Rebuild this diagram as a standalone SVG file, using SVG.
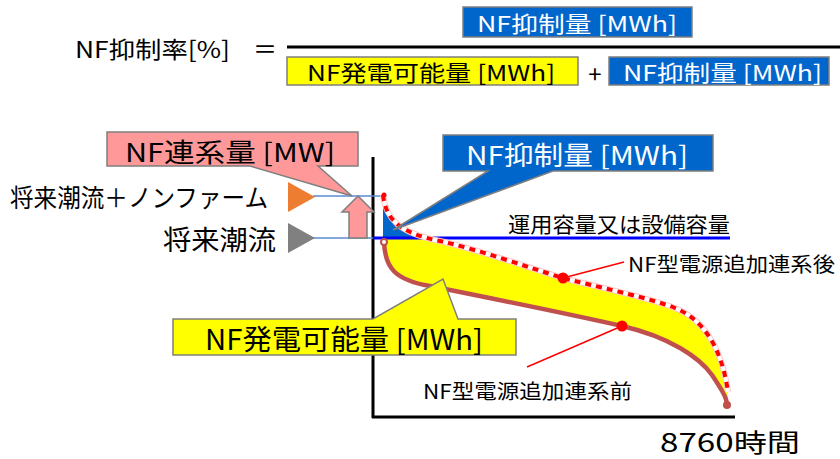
<svg xmlns="http://www.w3.org/2000/svg" width="840" height="459" viewBox="0 0 840 459">
<style>
text{font-family:"Noto Sans CJK JP","Noto Sans",sans-serif;dominant-baseline:central;fill:#000}
.w{fill:#fff}
.box{stroke:#7F7F7F;stroke-width:1.5}
.thin{stroke:#5B8BD0;stroke-width:1.5;fill:none}
</style>
<defs>
<clipPath id="clipBlue"><rect x="383" y="150" width="100" height="88"/></clipPath>
</defs>

<g id="formula">
<text x="75" y="48" font-size="23" textLength="155" lengthAdjust="spacingAndGlyphs">NF抑制率[%]</text>
<text x="265" y="47" font-size="24" text-anchor="middle">＝</text>
<line x1="287" y1="47" x2="840" y2="47" stroke="#000" stroke-width="3"/>
</g>
<g id="num-box">
<rect class="box" x="463" y="7" width="229" height="30" fill="#0066CC"/>
<text class="w" x="477" y="22" font-size="22" textLength="200" lengthAdjust="spacingAndGlyphs">NF抑制量 [MWh]</text>
</g>
<g id="den-yellow">
<rect class="box" x="287" y="57" width="291" height="28" fill="#FFFF00"/>
<text x="307" y="71" font-size="22" textLength="248" lengthAdjust="spacingAndGlyphs">NF発電可能量 [MWh]</text>
</g>
<g id="plus"><text x="595" y="72" font-size="24" text-anchor="middle">+</text></g>
<g id="den-blue">
<rect class="box" x="609" y="57" width="220" height="28" fill="#0066CC"/>
<text class="w" x="623" y="71" font-size="22" textLength="199" lengthAdjust="spacingAndGlyphs">NF抑制量 [MWh]</text>
</g>

<g id="axes">
<line x1="373" y1="157" x2="373" y2="418" stroke="#000" stroke-width="3"/>
<line x1="372" y1="417" x2="735" y2="417" stroke="#000" stroke-width="3"/>
</g>

<g id="areas">
<path d="M383,195 C386,220 400,233 440,241 C480,250 530,268 563,278 C610,290 650,298 675,308 C705,320 722,350 728,392 L727,405 C727,398 722,390 712,375 C700,358 670,337 622,326 C560,312 480,296 430,286 C395,280 385,268 384,242 Z" fill="#FFFF00"/>
<path clip-path="url(#clipBlue)" d="M383,195 C386,220 400,233 440,241 L440,260 L383,260 Z" fill="#0066CC"/>
</g>

<g id="connectors">
<line class="thin" x1="313" y1="196" x2="385" y2="196"/>
<line class="thin" x1="313" y1="238" x2="373" y2="238"/>
<line x1="373" y1="238" x2="730" y2="238" stroke="#0000FF" stroke-width="3"/>
<path d="M384,242 C385,268 395,280 430,286 C480,296 560,312 622,326 C670,337 700,358 712,375 C722,390 727,398 727,405" fill="none" stroke="#C0504D" stroke-width="4.5"/>
<circle cx="384" cy="242" r="3" fill="#fff" stroke="#C0504D" stroke-width="2"/>
<circle cx="727" cy="405" r="4" fill="#C0504D"/>
<path d="M383,195 C386,220 400,233 440,241 C480,250 530,268 563,278 C610,290 650,298 675,308 C705,320 722,350 728,392" fill="none" stroke="#FFC8C8" stroke-width="6"/>
<path d="M383,195 C386,220 400,233 440,241 C480,250 530,268 563,278 C610,290 650,298 675,308 C705,320 722,350 728,392" fill="none" stroke="#fff" stroke-width="4"/>
<path d="M383,195 C386,220 400,233 440,241 C480,250 530,268 563,278 C610,290 650,298 675,308 C705,320 722,350 728,392" fill="none" stroke="#FF0000" stroke-width="4" stroke-dasharray="6 5"/>
<circle cx="384" cy="195" r="2.5" fill="#FF0000"/>
<line x1="563" y1="278" x2="624" y2="262" stroke="#FF0000" stroke-width="1.5"/>
<line x1="622" y1="326" x2="527" y2="367" stroke="#FF0000" stroke-width="1.5"/>
<circle cx="563" cy="278" r="5.5" fill="#FF0000"/>
<circle cx="622" cy="326" r="5.5" fill="#FF0000"/>
</g>

<g id="tri-orange"><polygon points="288,182 315,197 288,212" fill="#ED7D31"/></g>
<g id="tri-gray"><polygon points="288,223 315,238 288,253" fill="#808080"/></g>
<g id="label-future-nf"><text x="10" y="196" font-size="25" textLength="258" lengthAdjust="spacingAndGlyphs">将来潮流＋ノンファーム</text></g>
<g id="label-future"><text x="163" y="238" font-size="27" textLength="113" lengthAdjust="spacingAndGlyphs">将来潮流</text></g>

<g id="pink-arrow">
<path class="box" d="M358,196 L374,212 H367 V238 H349 V212 H342 Z" fill="#FF9999"/>
</g>
<g id="callout-pink">
<path class="box" d="M107,132 H358 V166 H318 L352,196 L250,166 H107 Z" fill="#FF9999"/>
<text x="125" y="150" font-size="26" textLength="210" lengthAdjust="spacingAndGlyphs">NF連系量 [MW]</text>
</g>
<g id="callout-blue">
<path class="box" d="M443,135 H713 V171 H553 L393,230 L488,171 H443 Z" fill="#0066CC"/>
<text class="w" x="466" y="153" font-size="26" textLength="222" lengthAdjust="spacingAndGlyphs">NF抑制量 [MWh]</text>
</g>
<g id="callout-yellow">
<path class="box" d="M173,319 H373 L443,279 L458,319 H516 V355 H173 Z" fill="#FFFF00"/>
<text x="205" y="338" font-size="28" textLength="278" lengthAdjust="spacingAndGlyphs">NF発電可能量 [MWh]</text>
</g>

<g id="label-capacity"><text x="508" y="223" font-size="21" textLength="222" lengthAdjust="spacingAndGlyphs">運用容量又は設備容量</text></g>
<g id="label-after"><text x="628" y="263" font-size="20" textLength="207" lengthAdjust="spacingAndGlyphs">NF型電源追加連系後</text></g>
<g id="label-before"><text x="423" y="390" font-size="20" textLength="209" lengthAdjust="spacingAndGlyphs">NF型電源追加連系前</text></g>
<g id="label-8760"><text x="660" y="441" font-size="25" textLength="140" lengthAdjust="spacingAndGlyphs">8760時間</text></g>
</svg>
